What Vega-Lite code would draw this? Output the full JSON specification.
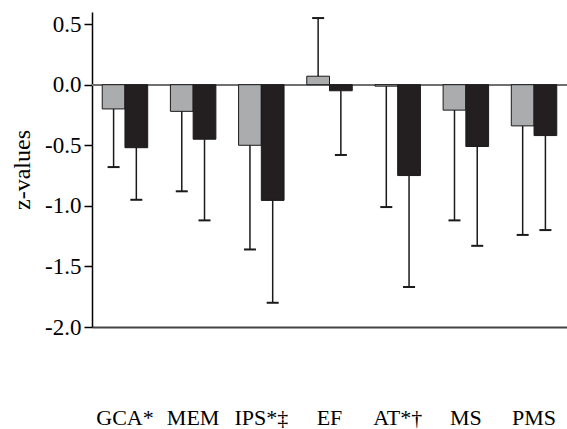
{
  "$schema": "https://vega.github.io/schema/vega-lite/v6.json",
  "autosize": "none",
  "padding": {"left": 92, "top": 12, "right": 0, "bottom": 102},
  "width": 475,
  "height": 315,
  "background": "white",
  "config": {
    "view": {"stroke": null},
    "font": "Liberation Serif",
    "axis": {"grid": false, "labelFont": "Liberation Serif", "titleFont": "Liberation Serif", "labelColor": "black", "titleColor": "black"}
  },
  "data": {
    "values": [
      {"domain": "GCA*", "group": "A", "mean": -0.20, "end": -0.68},
      {"domain": "GCA*", "group": "B", "mean": -0.52, "end": -0.95},
      {"domain": "MEM", "group": "A", "mean": -0.22, "end": -0.88},
      {"domain": "MEM", "group": "B", "mean": -0.45, "end": -1.12},
      {"domain": "IPS*‡", "group": "A", "mean": -0.50, "end": -1.36},
      {"domain": "IPS*‡", "group": "B", "mean": -0.955, "end": -1.80},
      {"domain": "EF", "group": "A", "mean": 0.07, "end": 0.55},
      {"domain": "EF", "group": "B", "mean": -0.05, "end": -0.58},
      {"domain": "AT*†", "group": "A", "mean": -0.012, "end": -1.01},
      {"domain": "AT*†", "group": "B", "mean": -0.75, "end": -1.67},
      {"domain": "MS", "group": "A", "mean": -0.21, "end": -1.12},
      {"domain": "MS", "group": "B", "mean": -0.51, "end": -1.33},
      {"domain": "PMS", "group": "A", "mean": -0.34, "end": -1.24},
      {"domain": "PMS", "group": "B", "mean": -0.42, "end": -1.20}
    ]
  },
  "encoding": {
    "x": {
      "field": "domain", "type": "nominal",
      "sort": ["GCA*", "MEM", "IPS*‡", "EF", "AT*†", "MS", "PMS"],
      "scale": {"paddingInner": 0.333, "paddingOuter": 0.15},
      "axis": {"title": null, "labelAngle": 0, "ticks": false, "domainColor": "#444444", "domainWidth": 2.2, "labelFontSize": 22, "labelPadding": 80}
    },
    "xOffset": {"field": "group", "type": "nominal", "scale": {"paddingInner": 0, "paddingOuter": 0}}
  },
  "layer": [
    {
      "mark": {"type": "rule", "color": "#707070", "strokeWidth": 1.5},
      "encoding": {"x": null, "xOffset": null, "y": {"datum": 0, "type": "quantitative"}}
    },
    {
      "mark": {"type": "bar", "stroke": "#1a1a1a", "strokeWidth": 1},
      "encoding": {
        "y": {
          "field": "mean", "type": "quantitative",
          "scale": {"domain": [-2.0, 0.6], "nice": false, "zero": true},
          "axis": {
            "title": "z-values", "titleFontSize": 24, "titleFontWeight": "normal", "titlePadding": 10,
            "values": [-2.0, -1.5, -1.0, -0.5, 0.0, 0.5],
            "labelExpr": "replace(format(datum.value, '.1f'), '−', '-')",
            "labelFontSize": 23, "labelPadding": 3,
            "tickSize": 8, "tickWidth": 1.5, "tickColor": "black",
            "domainColor": "black", "domainWidth": 1.5
          }
        },
        "y2": {"datum": 0},
        "color": {"field": "group", "type": "nominal", "scale": {"domain": ["A", "B"], "range": ["#aaacae", "#231f20"]}, "legend": null}
      }
    },
    {
      "mark": {"type": "rule", "color": "#1a1a1a", "strokeWidth": 1.5},
      "encoding": {
        "y": {"field": "mean", "type": "quantitative"},
        "y2": {"field": "end"}
      }
    },
    {
      "mark": {"type": "tick", "orient": "horizontal", "color": "#1a1a1a", "thickness": 2, "size": 12, "opacity": 1},
      "encoding": {
        "y": {"field": "end", "type": "quantitative"}
      }
    }
  ]
}
